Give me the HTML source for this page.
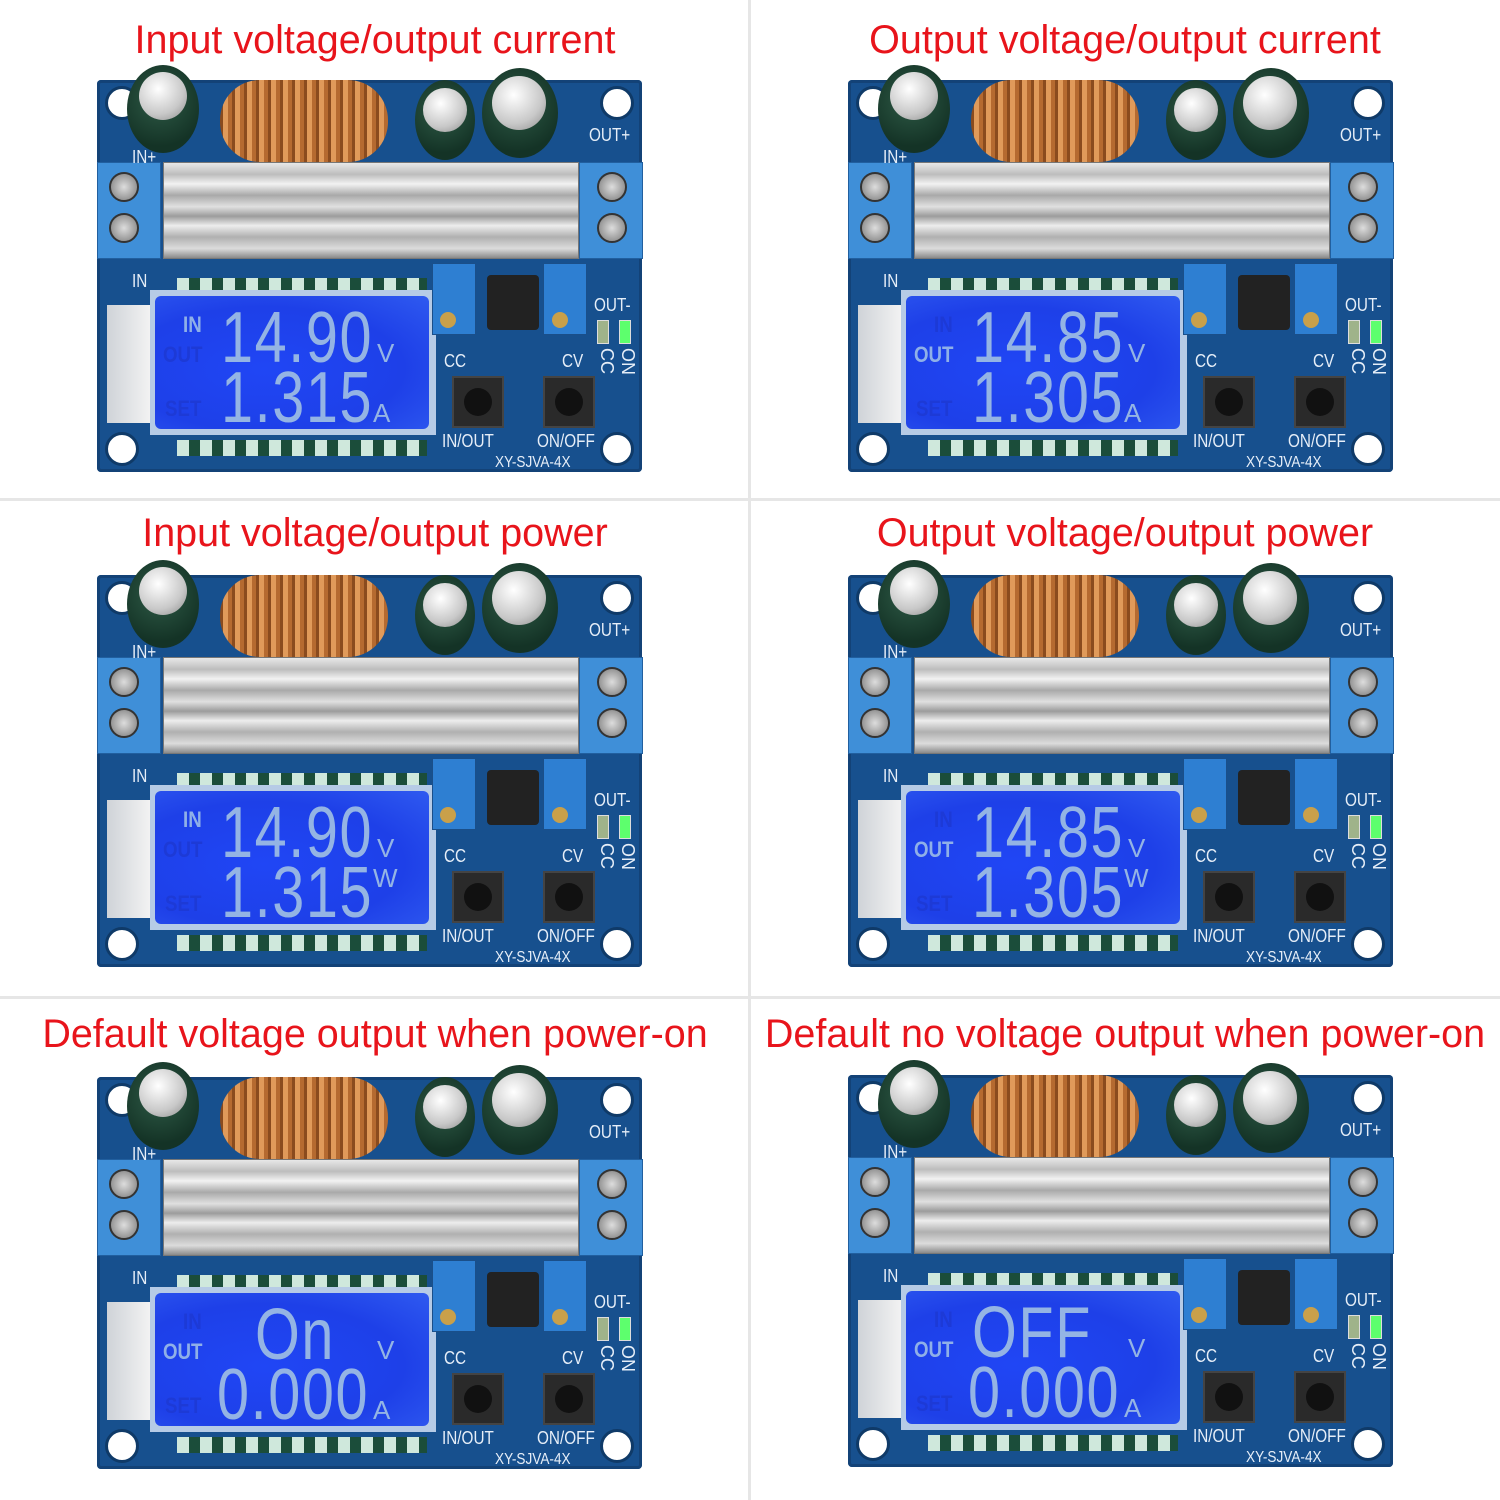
<!DOCTYPE html>
<html><head><meta charset="utf-8"><style>
body{margin:0;width:1500px;height:1500px;background:#fff;position:relative;overflow:hidden;font-family:"Liberation Sans",sans-serif}
.vl{position:absolute;left:748px;top:0;width:3px;height:1500px;background:#e6e6e6}
.hl{position:absolute;left:0;width:1500px;height:3px;background:#e6e6e6}
.t{position:absolute;width:750px;text-align:center;color:#e8141b;font-size:39.5px;line-height:40px}
.b{position:absolute;width:545px;height:392px}
.b div{position:absolute}
.pcb{left:0;top:0;width:545px;height:392px;background:#17508e;border-radius:4px;box-shadow:inset 0 0 0 3px #134277}
.hole{width:28px;height:28px;border-radius:50%;background:#fff;border:3px solid #0f3a68}
.cap{border-radius:50%;background:radial-gradient(circle at 45% 40%,#2e5a46,#143326 70%)}
.capt{border-radius:50%;background:radial-gradient(circle at 40% 35%,#fff,#c8c8c8 60%,#888)}
.coil{left:123px;top:0;width:168px;height:82px;border-radius:40px;background:repeating-linear-gradient(90deg,#8a4b1e 0 3px,#e09a5a 3px 8px,#b56a30 8px 12px)}
.hs{left:66px;top:82px;width:414px;height:95px;background:linear-gradient(#e8e8e8,#bdbdbd 12%,#f2f2f2 22%,#a9a9a9 34%,#e0e0e0 46%,#9c9c9c 56%,#ededed 66%,#b0b0b0 78%,#dcdcdc 90%,#8a8a8a);border:1px solid #777}
.tb{top:82px;width:62px;height:95px;background:#3f8fd8;border:1px solid #215f9f}
.sc{width:26px;height:26px;border-radius:50%;background:radial-gradient(circle,#ddd,#777);border:2px solid #333}
.lcdf{left:53px;top:210px;width:286px;height:145px;background:#b6cbe6}
.lcd{left:58px;top:216px;width:274px;height:133px;border-radius:6px;background:radial-gradient(ellipse at 40% 55%,#2046f5,#1e40e8 60%,#2f5af0)}
.plast{left:10px;top:225px;width:44px;height:118px;background:linear-gradient(90deg,#cfd3d8,#f3f3f3)}
.pins{height:12px;background:repeating-linear-gradient(90deg,#cfe8dc 0 12px,#1b4d3a 12px 23px)}
.pot{width:42px;height:70px;background:#2e7fd2;border:1px solid #1a4f8a}
.potk{width:16px;height:16px;border-radius:50%;background:#c9a04a}
.ind{width:52px;height:55px;background:#222;border-radius:4px}
.btn{width:48px;height:48px;background:#2a2a2a;border:2px solid #444}
.btn i{position:absolute;left:10px;top:10px;width:28px;height:28px;border-radius:50%;background:#111}
.led{width:10px;height:22px;background:#9fb38a;border:1px solid #ddd}
.s{color:#e6eef8;font-size:18px;line-height:18px;white-space:nowrap;transform:scaleX(.85);transform-origin:left}
.v{color:#e6eef8;font-size:18px;line-height:18px;white-space:nowrap;transform:rotate(90deg);transform-origin:left top}
.lt{color:#8fb0e8;font-size:22px;line-height:22px;font-weight:bold;transform:scaleX(.85);transform-origin:left}
.dim{color:#1d3ad6}
.dg{color:#94b4e4;font-size:72px;line-height:60px;white-space:nowrap;transform:scaleX(.8);transform-origin:left;letter-spacing:2px}
.u{color:#94b4e4;font-size:26px;line-height:26px}
</style></head><body>
<div class="vl"></div><div class="hl" style="top:498px"></div><div class="hl" style="top:996px"></div>
<div class="t" style="left:0;top:20px">Input voltage/output current</div>
<div class="t" style="left:750px;top:20px">Output voltage/output current</div>
<div class="t" style="left:0;top:513px">Input voltage/output power</div>
<div class="t" style="left:750px;top:513px">Output voltage/output power</div>
<div class="t" style="left:0;top:1014px">Default voltage output when power-on</div>
<div class="t" style="left:750px;top:1014px">Default no voltage output when power-on</div>

<!-- Board 1 -->
<div class="b" style="left:97px;top:80px">
<div class="pcb"></div>
<div class="hole" style="left:8px;top:6px"></div><div class="hole" style="left:503px;top:6px"></div>
<div class="hole" style="left:8px;top:352px"></div><div class="hole" style="left:503px;top:352px"></div>
<div class="cap" style="left:30px;top:-15px;width:72px;height:88px"></div><div class="capt" style="left:42px;top:-8px;width:48px;height:48px"></div>
<div class="coil"></div>
<div class="cap" style="left:318px;top:0;width:60px;height:80px"></div><div class="capt" style="left:326px;top:8px;width:44px;height:44px"></div>
<div class="cap" style="left:385px;top:-12px;width:76px;height:90px"></div><div class="capt" style="left:395px;top:-4px;width:54px;height:54px"></div>
<div class="hs"></div>
<div class="tb" style="left:0"></div><div class="sc" style="left:12px;top:92px"></div><div class="sc" style="left:12px;top:133px"></div>
<div class="tb" style="left:482px"></div><div class="sc" style="left:500px;top:92px"></div><div class="sc" style="left:500px;top:133px"></div>
<div class="plast"></div>
<div class="pins" style="left:80px;top:198px;width:250px"></div>
<div class="pins" style="left:80px;top:360px;width:250px;height:16px"></div>
<div class="lcdf"></div><div class="lcd">
<div class="lt" style="left:28px;top:18px">IN</div><div class="lt dim" style="left:8px;top:48px">OUT</div><div class="lt dim" style="left:10px;top:102px">SET</div>
<div class="dg" style="left:66px;top:12px">14.90</div><div class="u" style="left:222px;top:44px">V</div>
<div class="dg" style="left:66px;top:72px">1.315</div><div class="u" style="left:218px;top:104px">A</div></div>
<div class="pot" style="left:335px;top:183px"></div><div class="potk" style="left:343px;top:232px"></div>
<div class="ind" style="left:390px;top:195px"></div>
<div class="pot" style="left:446px;top:183px"></div><div class="potk" style="left:455px;top:232px"></div>
<div class="btn" style="left:355px;top:296px"><i></i></div><div class="btn" style="left:446px;top:296px"><i></i></div>
<div class="led" style="left:500px;top:240px"></div><div class="led" style="left:522px;top:240px;background:#5dff6d"></div>
<div class="s" style="left:35px;top:68px">IN+</div><div class="s" style="left:35px;top:192px">IN</div>
<div class="s" style="left:492px;top:46px">OUT+</div><div class="s" style="left:497px;top:216px">OUT-</div>
<div class="s" style="left:347px;top:272px">CC</div><div class="s" style="left:465px;top:272px">CV</div>
<div class="s" style="left:345px;top:352px">IN/OUT</div><div class="s" style="left:440px;top:352px">ON/OFF</div>
<div class="s" style="left:398px;top:374px;font-size:16px">XY-SJVA-4X</div>
<div class="v" style="left:519px;top:268px">CC</div><div class="v" style="left:540px;top:268px">ON</div>
</div>

<!-- Board 2 -->
<div class="b" style="left:848px;top:80px">
<div class="pcb"></div>
<div class="hole" style="left:8px;top:6px"></div><div class="hole" style="left:503px;top:6px"></div>
<div class="hole" style="left:8px;top:352px"></div><div class="hole" style="left:503px;top:352px"></div>
<div class="cap" style="left:30px;top:-15px;width:72px;height:88px"></div><div class="capt" style="left:42px;top:-8px;width:48px;height:48px"></div>
<div class="coil"></div>
<div class="cap" style="left:318px;top:0;width:60px;height:80px"></div><div class="capt" style="left:326px;top:8px;width:44px;height:44px"></div>
<div class="cap" style="left:385px;top:-12px;width:76px;height:90px"></div><div class="capt" style="left:395px;top:-4px;width:54px;height:54px"></div>
<div class="hs"></div>
<div class="tb" style="left:0"></div><div class="sc" style="left:12px;top:92px"></div><div class="sc" style="left:12px;top:133px"></div>
<div class="tb" style="left:482px"></div><div class="sc" style="left:500px;top:92px"></div><div class="sc" style="left:500px;top:133px"></div>
<div class="plast"></div>
<div class="pins" style="left:80px;top:198px;width:250px"></div>
<div class="pins" style="left:80px;top:360px;width:250px;height:16px"></div>
<div class="lcdf"></div><div class="lcd">
<div class="lt dim" style="left:28px;top:18px">IN</div><div class="lt" style="left:8px;top:48px">OUT</div><div class="lt dim" style="left:10px;top:102px">SET</div>
<div class="dg" style="left:66px;top:12px">14.85</div><div class="u" style="left:222px;top:44px">V</div>
<div class="dg" style="left:66px;top:72px">1.305</div><div class="u" style="left:218px;top:104px">A</div></div>
<div class="pot" style="left:335px;top:183px"></div><div class="potk" style="left:343px;top:232px"></div>
<div class="ind" style="left:390px;top:195px"></div>
<div class="pot" style="left:446px;top:183px"></div><div class="potk" style="left:455px;top:232px"></div>
<div class="btn" style="left:355px;top:296px"><i></i></div><div class="btn" style="left:446px;top:296px"><i></i></div>
<div class="led" style="left:500px;top:240px"></div><div class="led" style="left:522px;top:240px;background:#5dff6d"></div>
<div class="s" style="left:35px;top:68px">IN+</div><div class="s" style="left:35px;top:192px">IN</div>
<div class="s" style="left:492px;top:46px">OUT+</div><div class="s" style="left:497px;top:216px">OUT-</div>
<div class="s" style="left:347px;top:272px">CC</div><div class="s" style="left:465px;top:272px">CV</div>
<div class="s" style="left:345px;top:352px">IN/OUT</div><div class="s" style="left:440px;top:352px">ON/OFF</div>
<div class="s" style="left:398px;top:374px;font-size:16px">XY-SJVA-4X</div>
<div class="v" style="left:519px;top:268px">CC</div><div class="v" style="left:540px;top:268px">ON</div>
</div>

<!-- Board 3 -->
<div class="b" style="left:97px;top:575px">
<div class="pcb"></div>
<div class="hole" style="left:8px;top:6px"></div><div class="hole" style="left:503px;top:6px"></div>
<div class="hole" style="left:8px;top:352px"></div><div class="hole" style="left:503px;top:352px"></div>
<div class="cap" style="left:30px;top:-15px;width:72px;height:88px"></div><div class="capt" style="left:42px;top:-8px;width:48px;height:48px"></div>
<div class="coil"></div>
<div class="cap" style="left:318px;top:0;width:60px;height:80px"></div><div class="capt" style="left:326px;top:8px;width:44px;height:44px"></div>
<div class="cap" style="left:385px;top:-12px;width:76px;height:90px"></div><div class="capt" style="left:395px;top:-4px;width:54px;height:54px"></div>
<div class="hs"></div>
<div class="tb" style="left:0"></div><div class="sc" style="left:12px;top:92px"></div><div class="sc" style="left:12px;top:133px"></div>
<div class="tb" style="left:482px"></div><div class="sc" style="left:500px;top:92px"></div><div class="sc" style="left:500px;top:133px"></div>
<div class="plast"></div>
<div class="pins" style="left:80px;top:198px;width:250px"></div>
<div class="pins" style="left:80px;top:360px;width:250px;height:16px"></div>
<div class="lcdf"></div><div class="lcd">
<div class="lt" style="left:28px;top:18px">IN</div><div class="lt dim" style="left:8px;top:48px">OUT</div><div class="lt dim" style="left:10px;top:102px">SET</div>
<div class="dg" style="left:66px;top:12px">14.90</div><div class="u" style="left:222px;top:44px">V</div>
<div class="dg" style="left:66px;top:72px">1.315</div><div class="u" style="left:218px;top:74px">W</div></div>
<div class="pot" style="left:335px;top:183px"></div><div class="potk" style="left:343px;top:232px"></div>
<div class="ind" style="left:390px;top:195px"></div>
<div class="pot" style="left:446px;top:183px"></div><div class="potk" style="left:455px;top:232px"></div>
<div class="btn" style="left:355px;top:296px"><i></i></div><div class="btn" style="left:446px;top:296px"><i></i></div>
<div class="led" style="left:500px;top:240px"></div><div class="led" style="left:522px;top:240px;background:#5dff6d"></div>
<div class="s" style="left:35px;top:68px">IN+</div><div class="s" style="left:35px;top:192px">IN</div>
<div class="s" style="left:492px;top:46px">OUT+</div><div class="s" style="left:497px;top:216px">OUT-</div>
<div class="s" style="left:347px;top:272px">CC</div><div class="s" style="left:465px;top:272px">CV</div>
<div class="s" style="left:345px;top:352px">IN/OUT</div><div class="s" style="left:440px;top:352px">ON/OFF</div>
<div class="s" style="left:398px;top:374px;font-size:16px">XY-SJVA-4X</div>
<div class="v" style="left:519px;top:268px">CC</div><div class="v" style="left:540px;top:268px">ON</div>
</div>

<!-- Board 4 -->
<div class="b" style="left:848px;top:575px">
<div class="pcb"></div>
<div class="hole" style="left:8px;top:6px"></div><div class="hole" style="left:503px;top:6px"></div>
<div class="hole" style="left:8px;top:352px"></div><div class="hole" style="left:503px;top:352px"></div>
<div class="cap" style="left:30px;top:-15px;width:72px;height:88px"></div><div class="capt" style="left:42px;top:-8px;width:48px;height:48px"></div>
<div class="coil"></div>
<div class="cap" style="left:318px;top:0;width:60px;height:80px"></div><div class="capt" style="left:326px;top:8px;width:44px;height:44px"></div>
<div class="cap" style="left:385px;top:-12px;width:76px;height:90px"></div><div class="capt" style="left:395px;top:-4px;width:54px;height:54px"></div>
<div class="hs"></div>
<div class="tb" style="left:0"></div><div class="sc" style="left:12px;top:92px"></div><div class="sc" style="left:12px;top:133px"></div>
<div class="tb" style="left:482px"></div><div class="sc" style="left:500px;top:92px"></div><div class="sc" style="left:500px;top:133px"></div>
<div class="plast"></div>
<div class="pins" style="left:80px;top:198px;width:250px"></div>
<div class="pins" style="left:80px;top:360px;width:250px;height:16px"></div>
<div class="lcdf"></div><div class="lcd">
<div class="lt dim" style="left:28px;top:18px">IN</div><div class="lt" style="left:8px;top:48px">OUT</div><div class="lt dim" style="left:10px;top:102px">SET</div>
<div class="dg" style="left:66px;top:12px">14.85</div><div class="u" style="left:222px;top:44px">V</div>
<div class="dg" style="left:66px;top:72px">1.305</div><div class="u" style="left:218px;top:74px">W</div></div>
<div class="pot" style="left:335px;top:183px"></div><div class="potk" style="left:343px;top:232px"></div>
<div class="ind" style="left:390px;top:195px"></div>
<div class="pot" style="left:446px;top:183px"></div><div class="potk" style="left:455px;top:232px"></div>
<div class="btn" style="left:355px;top:296px"><i></i></div><div class="btn" style="left:446px;top:296px"><i></i></div>
<div class="led" style="left:500px;top:240px"></div><div class="led" style="left:522px;top:240px;background:#5dff6d"></div>
<div class="s" style="left:35px;top:68px">IN+</div><div class="s" style="left:35px;top:192px">IN</div>
<div class="s" style="left:492px;top:46px">OUT+</div><div class="s" style="left:497px;top:216px">OUT-</div>
<div class="s" style="left:347px;top:272px">CC</div><div class="s" style="left:465px;top:272px">CV</div>
<div class="s" style="left:345px;top:352px">IN/OUT</div><div class="s" style="left:440px;top:352px">ON/OFF</div>
<div class="s" style="left:398px;top:374px;font-size:16px">XY-SJVA-4X</div>
<div class="v" style="left:519px;top:268px">CC</div><div class="v" style="left:540px;top:268px">ON</div>
</div>

<!-- Board 5 -->
<div class="b" style="left:97px;top:1077px">
<div class="pcb"></div>
<div class="hole" style="left:8px;top:6px"></div><div class="hole" style="left:503px;top:6px"></div>
<div class="hole" style="left:8px;top:352px"></div><div class="hole" style="left:503px;top:352px"></div>
<div class="cap" style="left:30px;top:-15px;width:72px;height:88px"></div><div class="capt" style="left:42px;top:-8px;width:48px;height:48px"></div>
<div class="coil"></div>
<div class="cap" style="left:318px;top:0;width:60px;height:80px"></div><div class="capt" style="left:326px;top:8px;width:44px;height:44px"></div>
<div class="cap" style="left:385px;top:-12px;width:76px;height:90px"></div><div class="capt" style="left:395px;top:-4px;width:54px;height:54px"></div>
<div class="hs"></div>
<div class="tb" style="left:0"></div><div class="sc" style="left:12px;top:92px"></div><div class="sc" style="left:12px;top:133px"></div>
<div class="tb" style="left:482px"></div><div class="sc" style="left:500px;top:92px"></div><div class="sc" style="left:500px;top:133px"></div>
<div class="plast"></div>
<div class="pins" style="left:80px;top:198px;width:250px"></div>
<div class="pins" style="left:80px;top:360px;width:250px;height:16px"></div>
<div class="lcdf"></div><div class="lcd">
<div class="lt dim" style="left:28px;top:18px">IN</div><div class="lt" style="left:8px;top:48px">OUT</div><div class="lt dim" style="left:10px;top:102px">SET</div>
<div class="dg" style="left:100px;top:12px">On</div><div class="u dim" style="left:222px;top:44px">V</div>
<div class="dg" style="left:62px;top:72px">0.000</div><div class="u" style="left:218px;top:104px">A</div></div>
<div class="pot" style="left:335px;top:183px"></div><div class="potk" style="left:343px;top:232px"></div>
<div class="ind" style="left:390px;top:195px"></div>
<div class="pot" style="left:446px;top:183px"></div><div class="potk" style="left:455px;top:232px"></div>
<div class="btn" style="left:355px;top:296px"><i></i></div><div class="btn" style="left:446px;top:296px"><i></i></div>
<div class="led" style="left:500px;top:240px"></div><div class="led" style="left:522px;top:240px;background:#5dff6d"></div>
<div class="s" style="left:35px;top:68px">IN+</div><div class="s" style="left:35px;top:192px">IN</div>
<div class="s" style="left:492px;top:46px">OUT+</div><div class="s" style="left:497px;top:216px">OUT-</div>
<div class="s" style="left:347px;top:272px">CC</div><div class="s" style="left:465px;top:272px">CV</div>
<div class="s" style="left:345px;top:352px">IN/OUT</div><div class="s" style="left:440px;top:352px">ON/OFF</div>
<div class="s" style="left:398px;top:374px;font-size:16px">XY-SJVA-4X</div>
<div class="v" style="left:519px;top:268px">CC</div><div class="v" style="left:540px;top:268px">ON</div>
</div>

<!-- Board 6 -->
<div class="b" style="left:848px;top:1075px">
<div class="pcb"></div>
<div class="hole" style="left:8px;top:6px"></div><div class="hole" style="left:503px;top:6px"></div>
<div class="hole" style="left:8px;top:352px"></div><div class="hole" style="left:503px;top:352px"></div>
<div class="cap" style="left:30px;top:-15px;width:72px;height:88px"></div><div class="capt" style="left:42px;top:-8px;width:48px;height:48px"></div>
<div class="coil"></div>
<div class="cap" style="left:318px;top:0;width:60px;height:80px"></div><div class="capt" style="left:326px;top:8px;width:44px;height:44px"></div>
<div class="cap" style="left:385px;top:-12px;width:76px;height:90px"></div><div class="capt" style="left:395px;top:-4px;width:54px;height:54px"></div>
<div class="hs"></div>
<div class="tb" style="left:0"></div><div class="sc" style="left:12px;top:92px"></div><div class="sc" style="left:12px;top:133px"></div>
<div class="tb" style="left:482px"></div><div class="sc" style="left:500px;top:92px"></div><div class="sc" style="left:500px;top:133px"></div>
<div class="plast"></div>
<div class="pins" style="left:80px;top:198px;width:250px"></div>
<div class="pins" style="left:80px;top:360px;width:250px;height:16px"></div>
<div class="lcdf"></div><div class="lcd">
<div class="lt dim" style="left:28px;top:18px">IN</div><div class="lt" style="left:8px;top:48px">OUT</div><div class="lt dim" style="left:10px;top:102px">SET</div>
<div class="dg" style="left:66px;top:12px">OFF</div><div class="u dim" style="left:222px;top:44px">V</div>
<div class="dg" style="left:62px;top:72px">0.000</div><div class="u" style="left:218px;top:104px">A</div></div>
<div class="pot" style="left:335px;top:183px"></div><div class="potk" style="left:343px;top:232px"></div>
<div class="ind" style="left:390px;top:195px"></div>
<div class="pot" style="left:446px;top:183px"></div><div class="potk" style="left:455px;top:232px"></div>
<div class="btn" style="left:355px;top:296px"><i></i></div><div class="btn" style="left:446px;top:296px"><i></i></div>
<div class="led" style="left:500px;top:240px"></div><div class="led" style="left:522px;top:240px;background:#5dff6d"></div>
<div class="s" style="left:35px;top:68px">IN+</div><div class="s" style="left:35px;top:192px">IN</div>
<div class="s" style="left:492px;top:46px">OUT+</div><div class="s" style="left:497px;top:216px">OUT-</div>
<div class="s" style="left:347px;top:272px">CC</div><div class="s" style="left:465px;top:272px">CV</div>
<div class="s" style="left:345px;top:352px">IN/OUT</div><div class="s" style="left:440px;top:352px">ON/OFF</div>
<div class="s" style="left:398px;top:374px;font-size:16px">XY-SJVA-4X</div>
<div class="v" style="left:519px;top:268px">CC</div><div class="v" style="left:540px;top:268px">ON</div>
</div>
</body></html>
